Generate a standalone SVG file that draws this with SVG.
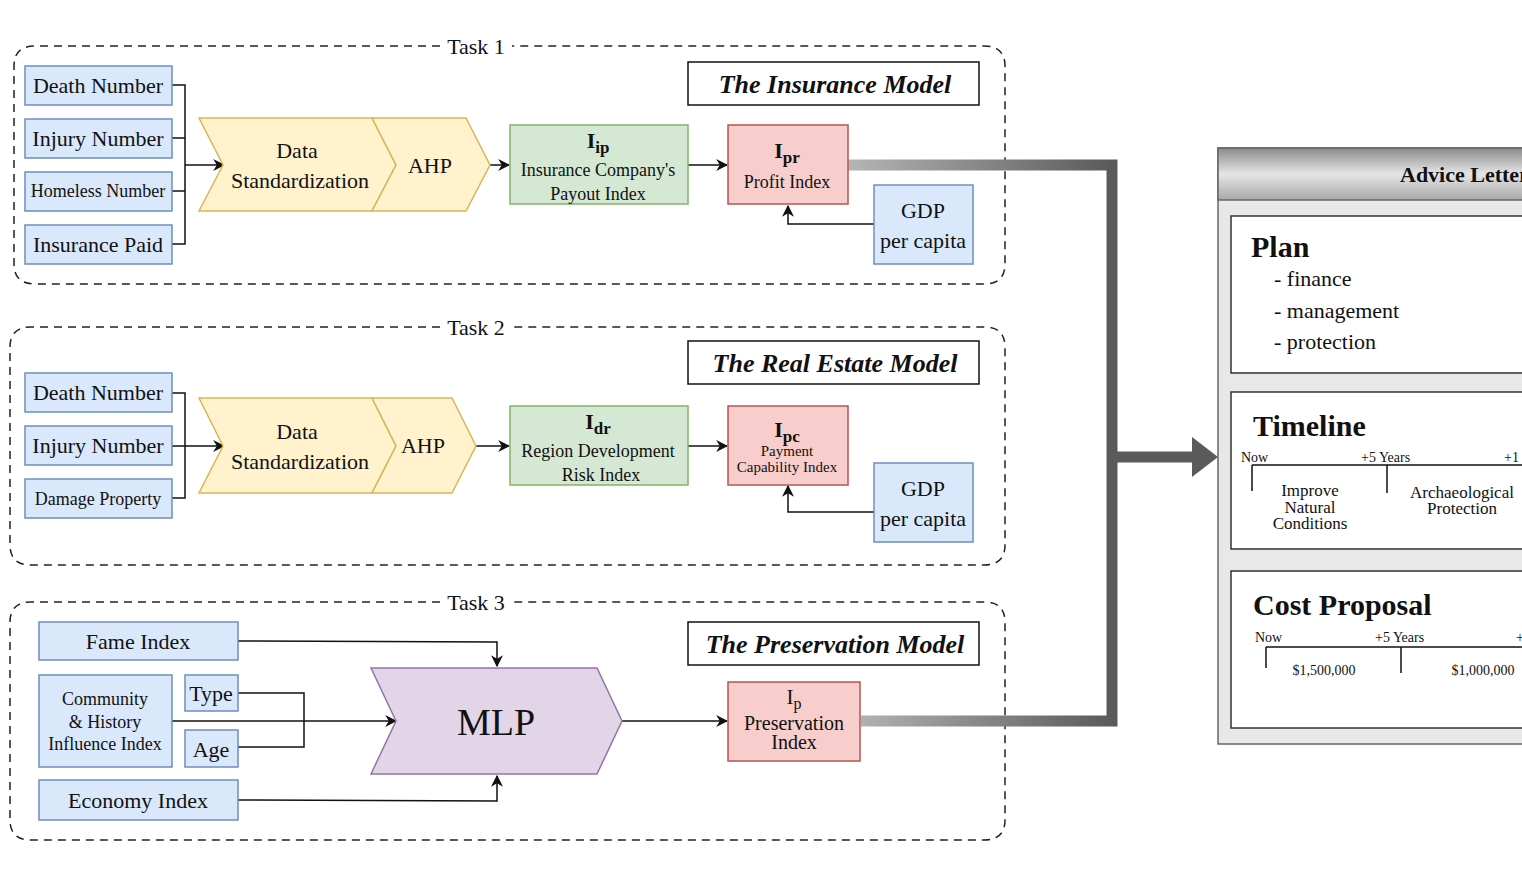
<svg xmlns="http://www.w3.org/2000/svg" width="1522" height="874" viewBox="0 0 1522 874" font-family="'Liberation Serif', 'Times New Roman', serif">
<defs>
<style>
text{font-family:'Liberation Serif','Times New Roman',serif;fill:#111}
.task{fill:none;stroke:#222;stroke-width:1.5;stroke-dasharray:8 6}
.blue{fill:#dae8fc;stroke:#6c8ebf;stroke-width:1.5}
.yel{fill:#fff2cc;stroke:#d6b656;stroke-width:1.5}
.grn{fill:#d5e8d4;stroke:#82b366;stroke-width:1.5}
.red{fill:#f8cecc;stroke:#b85450;stroke-width:1.5}
.pur{fill:#e1d5e7;stroke:#9673a6;stroke-width:1.5}
.title{fill:#fff;stroke:#111;stroke-width:1.5}
.c{stroke:#111;stroke-width:1.5;fill:none}
.ca{stroke:#111;stroke-width:1.5;fill:none;marker-end:url(#ah)}
.t22{font-size:22px}
.t18{font-size:18px}
.ti{font-size:26px;font-weight:bold;font-style:italic}
.wbox{fill:#fff;stroke:#333;stroke-width:1.5}
</style>
<marker id="ah" viewBox="0 0 10 10" refX="9" refY="5" markerWidth="8" markerHeight="8" orient="auto"><path d="M0,0 L10,5 L0,10 L3,5Z" fill="#111"/></marker>
<linearGradient id="g1" x1="0" x2="1" y1="0" y2="0"><stop offset="0" stop-color="#b5b5b5"/><stop offset="1" stop-color="#5a5a5a"/></linearGradient>
<linearGradient id="hd" x1="0" x2="0" y1="0" y2="1"><stop offset="0" stop-color="#8a8a8a"/><stop offset="0.5" stop-color="#e6e6e6"/><stop offset="1" stop-color="#a8a8a8"/></linearGradient>
</defs>
<rect width="1522" height="874" fill="#fff"/>

<g id="task1">
<path class="task" d="M440,46 H35 Q14,46 14,66 V264 Q14,284 35,284 H984 Q1005,284 1005,264 V66 Q1005,46 984,46 H512"/>
<text x="476" y="54" text-anchor="middle" class="t22">Task 1</text>
</g>
<g id="task2">
<path class="task" d="M440,327 H31 Q10,327 10,347 V545 Q10,565 31,565 H984 Q1005,565 1005,545 V347 Q1005,327 984,327 H512"/>
<text x="476" y="335" text-anchor="middle" class="t22">Task 2</text>
</g>
<g id="task3">
<path class="task" d="M440,602 H31 Q10,602 10,622 V820 Q10,840 31,840 H984 Q1005,840 1005,820 V622 Q1005,602 984,602 H512"/>
<text x="476" y="610" text-anchor="middle" class="t22">Task 3</text>
</g>

<g id="title1"><rect class="title" x="688" y="62" width="291" height="43"/><text x="835" y="93" text-anchor="middle" class="ti">The Insurance Model</text></g>
<g id="title2"><rect class="title" x="688" y="341" width="291" height="43"/><text x="835" y="372" text-anchor="middle" class="ti">The Real Estate Model</text></g>
<g id="title3"><rect class="title" x="688" y="622" width="291" height="43"/><text x="835" y="653" text-anchor="middle" class="ti">The Preservation Model</text></g>

<g id="connectors">
<path class="c" d="M172,85 H185 V244 H172 M172,138 H185 M172,191 H185"/>
<path class="ca" d="M185,165 H224"/>
<path class="ca" d="M490,165 H509"/>
<path class="ca" d="M688,165 H727"/>
<path class="ca" d="M874,224 H788 V206"/>
<path class="c" d="M172,393 H185 V498 H172 M172,446 H185"/>
<path class="ca" d="M185,446 H224"/>
<path class="ca" d="M476,446 H509"/>
<path class="ca" d="M688,446 H727"/>
<path class="ca" d="M874,512 H788 V486"/>
<path class="ca" d="M238,641 L497,642 V666"/>
<path class="ca" d="M238,800 L497,801 V776"/>
<path class="c" d="M238,693 H304 V747 H238"/>
<path class="ca" d="M172,721 H396"/>
<path class="ca" d="M622,721 H727"/>
<path d="M848,165 H1112 V721 H861" fill="none" stroke="url(#g1)" stroke-width="11"/>
<path d="M1112,457 H1194" stroke="#5a5a5a" stroke-width="11"/>
<path d="M1192,437 L1218,457 L1192,477Z" fill="#5a5a5a"/>
</g>

<g id="death1"><rect class="blue" x="25" y="66" width="147" height="39"/><text x="98" y="93" text-anchor="middle" class="t22">Death Number</text></g>
<g id="injury1"><rect class="blue" x="25" y="119" width="147" height="39"/><text x="98" y="146" text-anchor="middle" class="t22">Injury Number</text></g>
<g id="homeless"><rect class="blue" x="25" y="172" width="147" height="39"/><text x="98" y="197" text-anchor="middle" class="t18">Homeless Number</text></g>
<g id="insurance"><rect class="blue" x="25" y="225" width="147" height="39"/><text x="98" y="252" text-anchor="middle" class="t22">Insurance Paid</text></g>
<g id="ds1"><polygon class="yel" points="199,118 372,118 396,165 372,211 199,211 223,165"/><text x="297" y="158" text-anchor="middle" class="t22">Data</text><text x="300" y="188" text-anchor="middle" class="t22">Standardization</text></g>
<g id="ahp1"><polygon class="yel" points="372,118 466,118 490,165 466,211 372,211 396,165"/><text x="430" y="173" text-anchor="middle" class="t22">AHP</text></g>
<g id="iip"><rect class="grn" x="510" y="125" width="178" height="79"/><text x="598" y="148" text-anchor="middle" font-size="22" font-weight="bold">I<tspan font-size="17" dy="5">ip</tspan></text><text x="598" y="176" text-anchor="middle" class="t18">Insurance Company's</text><text x="598" y="200" text-anchor="middle" class="t18">Payout Index</text></g>
<g id="ipr"><rect class="red" x="728" y="125" width="120" height="79"/><text x="787" y="158" text-anchor="middle" font-size="22" font-weight="bold">I<tspan font-size="17" dy="5">pr</tspan></text><text x="787" y="188" text-anchor="middle" class="t18">Profit Index</text></g>
<g id="gdp1"><rect class="blue" x="874" y="185" width="99" height="79"/><text x="923" y="218" text-anchor="middle" class="t22">GDP</text><text x="923" y="248" text-anchor="middle" class="t22">per capita</text></g>

<g id="death2"><rect class="blue" x="25" y="373" width="147" height="39"/><text x="98" y="400" text-anchor="middle" class="t22">Death Number</text></g>
<g id="injury2"><rect class="blue" x="25" y="426" width="147" height="39"/><text x="98" y="453" text-anchor="middle" class="t22">Injury Number</text></g>
<g id="damage"><rect class="blue" x="25" y="479" width="147" height="39"/><text x="98" y="505" text-anchor="middle" class="t18">Damage Property</text></g>
<g id="ds2"><polygon class="yel" points="199,398 372,398 396,446 372,493 199,493 223,446"/><text x="297" y="439" text-anchor="middle" class="t22">Data</text><text x="300" y="469" text-anchor="middle" class="t22">Standardization</text></g>
<g id="ahp2"><polygon class="yel" points="372,398 452,398 476,446 452,493 372,493 396,446"/><text x="423" y="453" text-anchor="middle" class="t22">AHP</text></g>
<g id="idr"><rect class="grn" x="510" y="406" width="178" height="79"/><text x="598" y="429" text-anchor="middle" font-size="22" font-weight="bold">I<tspan font-size="17" dy="5">dr</tspan></text><text x="598" y="457" text-anchor="middle" class="t18">Region Development</text><text x="601" y="481" text-anchor="middle" class="t18">Risk Index</text></g>
<g id="ipc"><rect class="red" x="728" y="406" width="120" height="79"/><text x="787" y="437" text-anchor="middle" font-size="22" font-weight="bold">I<tspan font-size="17" dy="5">pc</tspan></text><text x="787" y="456" text-anchor="middle" font-size="15">Payment</text><text x="787" y="472" text-anchor="middle" font-size="15">Capability Index</text></g>
<g id="gdp2"><rect class="blue" x="874" y="463" width="99" height="79"/><text x="923" y="496" text-anchor="middle" class="t22">GDP</text><text x="923" y="526" text-anchor="middle" class="t22">per capita</text></g>

<g id="fame"><rect class="blue" x="39" y="622" width="199" height="38"/><text x="138" y="649" text-anchor="middle" class="t22">Fame Index</text></g>
<g id="community"><rect class="blue" x="39" y="675" width="133" height="92"/><text x="105" y="705" text-anchor="middle" class="t18">Community</text><text x="105" y="728" text-anchor="middle" class="t18">&amp; History</text><text x="105" y="750" text-anchor="middle" class="t18">Influence Index</text></g>
<g id="type"><rect class="blue" x="185" y="675" width="53" height="36"/><text x="211" y="701" text-anchor="middle" class="t22">Type</text></g>
<g id="age"><rect class="blue" x="185" y="730" width="53" height="37"/><text x="211" y="757" text-anchor="middle" class="t22">Age</text></g>
<g id="economy"><rect class="blue" x="39" y="780" width="199" height="40"/><text x="138" y="808" text-anchor="middle" class="t22">Economy Index</text></g>
<g id="mlp"><polygon class="pur" points="371,668 597,668 622,721 597,774 371,774 396,721"/><text x="496" y="735" text-anchor="middle" font-size="38">MLP</text></g>
<g id="ip"><rect class="red" x="728" y="682" width="132" height="79"/><text x="794" y="704" text-anchor="middle" font-size="21">I<tspan font-size="16" dy="5">p</tspan></text><text x="794" y="730" text-anchor="middle" font-size="20">Preservation</text><text x="794" y="749" text-anchor="middle" font-size="20">Index</text></g>

<g id="advice">
<rect x="1218" y="148" width="320" height="596" fill="#e8e8e8" stroke="#666" stroke-width="1.5"/>
<rect x="1218" y="148" width="320" height="52" fill="url(#hd)" stroke="#666" stroke-width="1.5"/>
<text x="1400" y="182" font-size="22" font-weight="bold" fill="#333">Advice Letter</text>
<rect class="wbox" x="1231" y="216" width="300" height="157"/>
<text x="1251" y="257" font-size="30" font-weight="bold">Plan</text>
<text x="1274" y="286" font-size="22">- finance</text>
<text x="1274" y="318" font-size="22">- management</text>
<text x="1274" y="349" font-size="22">- protection</text>
<rect class="wbox" x="1231" y="392" width="300" height="157"/>
<text x="1253" y="436" font-size="30" font-weight="bold">Timeline</text>
<text x="1241" y="462" font-size="14">Now</text>
<text x="1361" y="462" font-size="14">+5 Years</text>
<text x="1504" y="462" font-size="14">+1</text>
<path class="c" d="M1252,465 H1530 M1252,465 V491 M1387,465 V493" stroke-width="1.3"/>
<text x="1310" y="496" text-anchor="middle" font-size="17">Improve</text>
<text x="1310" y="513" text-anchor="middle" font-size="17">Natural</text>
<text x="1310" y="529" text-anchor="middle" font-size="17">Conditions</text>
<text x="1462" y="498" text-anchor="middle" font-size="17">Archaeological</text>
<text x="1462" y="514" text-anchor="middle" font-size="17">Protection</text>
<rect class="wbox" x="1231" y="571" width="300" height="157"/>
<text x="1253" y="615" font-size="30" font-weight="bold">Cost Proposal</text>
<text x="1255" y="642" font-size="14">Now</text>
<text x="1375" y="642" font-size="14">+5 Years</text>
<text x="1516" y="642" font-size="14">+</text>
<path class="c" d="M1266,647 H1530 M1266,647 V668 M1401,647 V673" stroke-width="1.3"/>
<text x="1324" y="675" text-anchor="middle" font-size="14">$1,500,000</text>
<text x="1483" y="675" text-anchor="middle" font-size="14">$1,000,000</text>
</g>
</svg>
